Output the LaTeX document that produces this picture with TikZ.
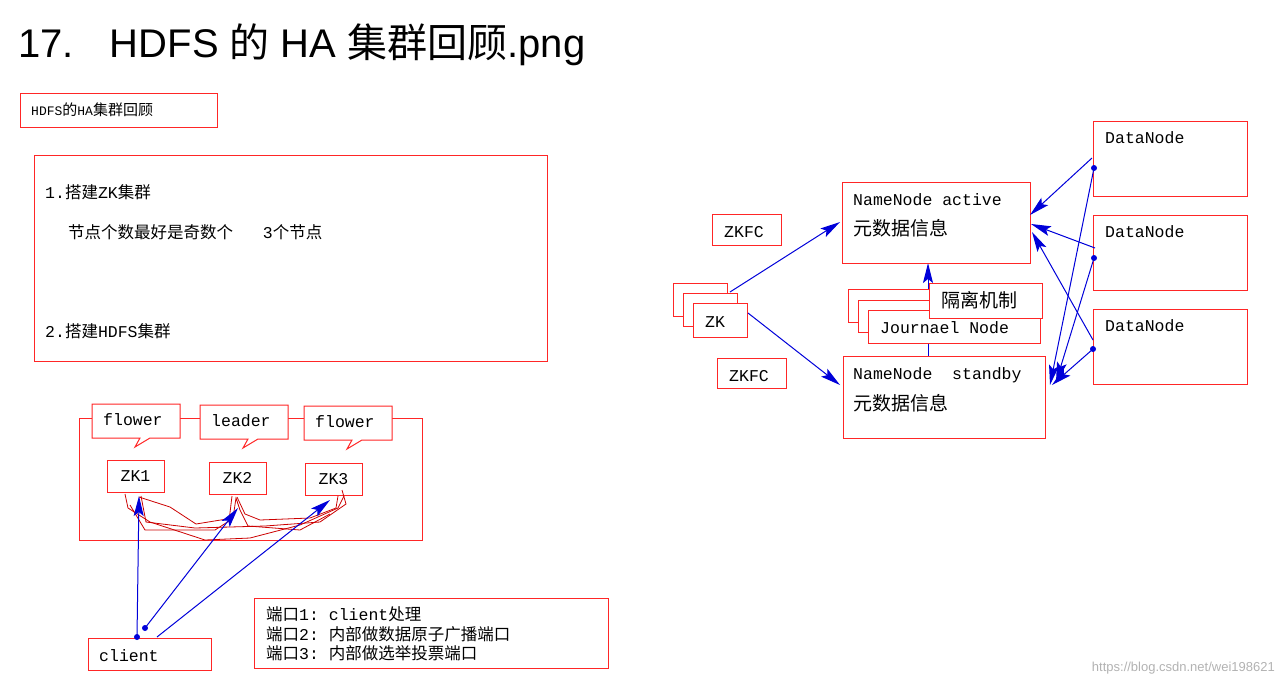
\documentclass[tikz,border=0pt]{standalone}
\usepackage{fontspec}
\setmainfont{Liberation Sans}
\setmonofont{Liberation Mono}
\newfontfamily\cjk{Noto Sans CJK SC}
\usetikzlibrary{arrows.meta}
\begin{document}
\begin{tikzpicture}[x=1pt,y=-1pt,
  rbox/.style={draw=red!85!white,line width=1pt,fill=white},
  txt/.style={anchor=west,inner sep=0pt,font=\ttfamily\fontsize{16.5}{18}\selectfont},
  ct/.style={anchor=west,inner sep=0pt,font=\cjk\fontsize{19}{21}\selectfont},
  barr/.style={draw=blue!85!black,line width=1pt,-{Stealth[length=20pt,width=10pt,inset=4pt]}},
  dot/.style={circle,fill=blue!85!black,inner sep=0pt,minimum size=6pt},
  sq/.style={draw=red!80!black,line width=0.8pt}]
\useasboundingbox (0,0) rectangle (1281,686);
% title
\node[anchor=west,inner sep=0pt,font=\fontsize{40}{44}\selectfont] (title) at (18,45) {17.\hspace{36pt}HDFS {\cjk 的} HA {\cjk 集群回顾}.png};
% top-left
\draw[rbox] (20,93) rectangle (217,127);
\node[txt,font=\ttfamily\fontsize{13}{14}\selectfont] (t0) at (31,110) {HDFS{\cjk\fontsize{15}{16}\selectfont 的}HA{\cjk\fontsize{15}{16}\selectfont 集群回顾}};
\draw[rbox] (34,155) rectangle (547,361);
\node[txt] (t1) at (45,192) {1.{\cjk 搭建}ZK{\cjk 集群}};
\node[txt] (t2) at (68,232) {{\cjk 节点个数最好是奇数个}\ \ \ 3{\cjk 个节点}};
\node[txt] (t3) at (45,331) {2.{\cjk 搭建}HDFS{\cjk 集群}};
% ZK cluster
\draw[rbox] (79,418) rectangle (422,540);
\foreach \x/\y/\t/\n in {92/404/flower/fa,200/405/leader/la,304/406/flower/fb}{
  \draw[rbox] (\x,\y) -- (\x+88,\y) -- (\x+88,\y+34) -- (\x+58,\y+34) -- (\x+43,\y+43) -- (\x+48,\y+34) -- (\x,\y+34) -- cycle;
  \node[txt] (\n) at (\x+11,\y+16) {\t};
}
\node[rbox,minimum width=57pt,minimum height=32pt,inner sep=0pt,font=\ttfamily\fontsize{16.5}{18}\selectfont] (zk1) at (135.5,476) {ZK1};
\node[rbox,minimum width=57pt,minimum height=32pt,inner sep=0pt,font=\ttfamily\fontsize{16.5}{18}\selectfont] (zk2) at (237.5,478) {ZK2};
\node[rbox,minimum width=57pt,minimum height=32pt,inner sep=0pt,font=\ttfamily\fontsize{16.5}{18}\selectfont] (zk3) at (333.5,479) {ZK3};
% squiggles
\draw[sq] (125,494) -- (128,508) -- (150,522) -- (205,540) -- (250,538) -- (300,525) -- (338,508) -- (344,496);
\draw[sq] (141,496) -- (146,522) -- (195,528) -- (265,526) -- (320,522) -- (346,504) -- (342,490);
\draw[sq] (139,497) -- (170,507) -- (196,524) -- (233,518) -- (236,498) -- (240,510) -- (248,526) -- (300,530) -- (330,514);
\draw[sq] (232,496) -- (229,521) -- (215,530) -- (145,530) -- (130,505);
\draw[sq] (237,497) -- (245,514) -- (260,520) -- (310,518) -- (336,508) -- (338,496);
% client
\node[rbox,minimum width=123pt,minimum height=32pt,inner sep=0pt] (client) at (149.5,654) {};
\node[txt] (clt) at (99,656) {client};
\coordinate (c1) at (137,637); \coordinate (c2) at (145,628); \coordinate (c3) at (157,637);
\draw[barr] (c1) -- (139,496);
\draw[barr] (c2) -- (238,508);
\draw[barr] (c3) -- (330,500);
\node[dot] (d1) at (c1) {}; \node[dot] (d2) at (c2) {};
% ports
\draw[rbox] (254,598) rectangle (608,668);
\node[txt] (p1) at (266,614) {{\cjk 端口}1: client{\cjk 处理}};
\node[txt] (p2) at (266,634) {{\cjk 端口}2: {\cjk 内部做数据原子广播端口}};
\node[txt] (p3) at (266,653) {{\cjk 端口}3: {\cjk 内部做选举投票端口}};
% right side
\draw[barr] (928,356) -- (928,263);
\draw[rbox] (842,182) rectangle (1030,263);
\node[txt] (na) at (853,200) {NameNode active};
\node[ct] (na2) at (853,228) {元数据信息};
\draw[rbox] (843,356) rectangle (1045,438);
\node[txt] (ns) at (853,375) {NameNode\ \ standby};
\node[ct] (ns2) at (853,403) {元数据信息};
\draw[rbox] (712,214) rectangle (781,245); \node[txt] (zf1) at (724,232) {ZKFC};
\draw[rbox] (717,358) rectangle (786,388); \node[txt] (zf2) at (729,376) {ZKFC};
\draw[rbox] (673,283) rectangle (727,316);
\draw[rbox] (683,293) rectangle (737,326);
\draw[rbox] (693,303) rectangle (747,337); \node[txt] (zk) at (705,322) {ZK};
\draw[rbox] (848,289) rectangle (930,322);
\draw[rbox] (858,300) rectangle (940,332);
\draw[rbox] (868,310) rectangle (1040,343); \node[txt] (jn) at (880,328) {Journael Node};
\draw[rbox] (929,283) rectangle (1042,318); \node[ct] (gl) at (941,300) {隔离机制};
\draw[barr] (730,292) -- (840,222);
\draw[barr] (748,313) -- (840,385);
% datanodes
\foreach \y/\n in {121/dn1,215/dn2,309/dn3}{
  \draw[rbox] (1093,\y) rectangle (1247,\y+75);
  \node[txt] (\n) at (1105,\y+17) {DataNode};
}
\draw[barr] (1092,158) -- (1030,215);
\draw[barr] (1095,248) -- (1031,224);
\draw[barr] (1093,340) -- (1032,232);
\draw[barr] (1094,168) -- (1050,385);
\draw[barr] (1094,258) -- (1056,382);
\draw[barr] (1093,349) -- (1052,385);
\node[dot] at (1094,168) {}; \node[dot] at (1094,258) {}; \node[dot] at (1093,349) {};
\node[anchor=east,inner sep=0pt,text=gray!60,font=\fontsize{13}{14}\selectfont] (wm) at (1275,668) {https://blog.csdn.net/wei198621};
\end{tikzpicture}
\end{document}
